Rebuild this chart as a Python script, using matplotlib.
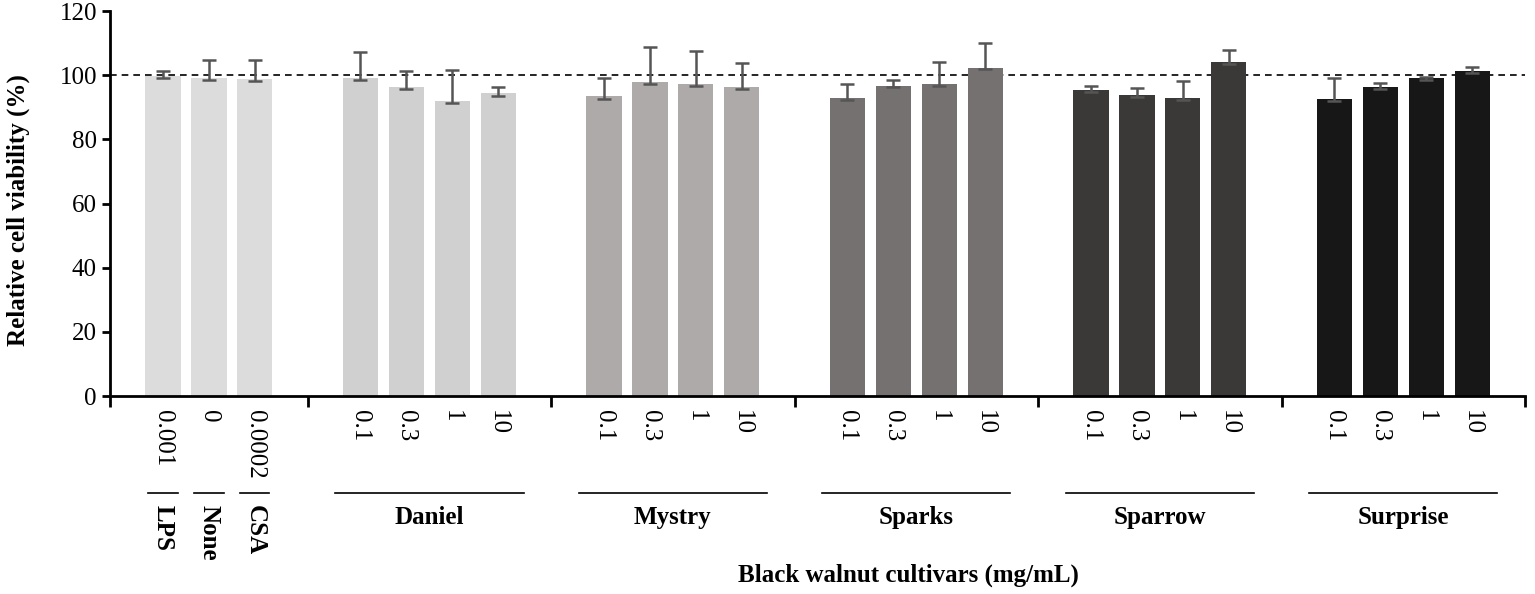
import matplotlib.pyplot as plt
from matplotlib.lines import Line2D

plt.rcParams["font.family"] = ["Liberation Serif", "DejaVu Serif"]

# data
controls = ["LPS", "None", "CSA"]
control_doses = ["0.001", "0", "0.0002"]
control_vals = [99.8, 99.2, 98.8]
control_hi = [1.4, 5.6, 6.0]
control_lo = [0.8, 0.6, 0.6]

cultivars = ["Daniel", "Mystry", "Sparks", "Sparrow", "Surprise"]
doses = ["0.1", "0.3", "1", "10"]
values = [
    [99.2, 96.4, 92.0, 94.5],
    [93.4, 97.9, 97.4, 96.3],
    [92.9, 96.8, 97.4, 102.4],
    [95.5, 93.9, 93.0, 104.0],
    [92.5, 96.3, 99.0, 101.4],
]
err_hi = [
    [8.0, 4.8, 9.5, 1.7],
    [5.9, 10.8, 10.2, 7.4],
    [4.3, 1.8, 6.8, 7.7],
    [1.3, 2.2, 5.2, 4.0],
    [6.8, 1.4, 0.5, 1.2],
]
err_lo = [
    [0.6, 0.8, 0.8, 0.9],
    [0.7, 0.7, 0.7, 0.7],
    [0.6, 0.6, 0.6, 0.6],
    [0.6, 0.6, 0.6, 0.6],
    [0.6, 0.6, 0.6, 0.6],
]

control_color = "#dcdcdc"
colors = ["#d0d0d0", "#aeaaaa", "#767171", "#3b3838", "#181717"]

margin = 1.15
bw = 0.77
fs = 18

fig = plt.figure(figsize=(15.35, 5.94), dpi=100)
ax = fig.add_axes([0.0717, 0.3333, 0.9218, 0.648])

# positions
edges = [0.0]
ctrl_x = [margin + i for i in range(len(controls))]
edges.append(ctrl_x[-1] + margin)
group_x = []
for g in range(len(cultivars)):
    start = edges[-1]
    xs = [start + margin + i for i in range(len(doses))]
    group_x.append(xs)
    edges.append(xs[-1] + margin)

ax.bar(ctrl_x, control_vals, width=bw, color=control_color)
ax.errorbar(ctrl_x, control_vals, yerr=[control_lo, control_hi], fmt="none",
            ecolor="#555555", elinewidth=1.8, capsize=5, capthick=1.8)
for g in range(len(cultivars)):
    ax.bar(group_x[g], values[g], width=bw, color=colors[g])
    ax.errorbar(group_x[g], values[g], yerr=[err_lo[g], err_hi[g]], fmt="none",
                ecolor="#555555", elinewidth=1.8, capsize=5, capthick=1.8)

ax.axhline(100, color="black", linestyle=(0, (4, 3)), linewidth=1.2, zorder=0.5)

ax.set_xlim(edges[0], edges[-1])
ax.set_ylim(0, 120)
ax.set_yticks(range(0, 121, 20))
ax.tick_params(axis="y", labelsize=fs, width=2, length=6, direction="out")

all_x = ctrl_x + [x for xs in group_x for x in xs]
all_lab = control_doses + doses * len(cultivars)
ax.set_xticks(all_x, all_lab, rotation=-90, fontsize=fs)
ax.tick_params(axis="x", which="major", length=0, pad=10)
ax.set_xticks(edges, minor=True)
ax.tick_params(axis="x", which="minor", length=8, width=2, direction="out")

for s in ["top", "right"]:
    ax.spines[s].set_visible(False)
for s in ["left", "bottom"]:
    ax.spines[s].set_linewidth(2)

tr = ax.get_xaxis_transform()
line_y = -0.252
for x, name in zip(ctrl_x, controls):
    ax.add_line(Line2D([x - 0.32, x + 0.32], [line_y, line_y], transform=tr,
                       color="black", linewidth=1.2, clip_on=False))
    ax.text(x, line_y - 0.03, name, transform=tr, rotation=-90, ha="center", va="top",
            fontsize=fs, fontweight="bold")
for xs, name in zip(group_x, cultivars):
    ax.add_line(Line2D([xs[0] - 0.55, xs[-1] + 0.55], [line_y, line_y], transform=tr,
                       color="black", linewidth=1.2, clip_on=False))
    ax.text((xs[0] + xs[-1]) / 2, line_y - 0.035, name, transform=tr, ha="center", va="top",
            fontsize=fs, fontweight="bold")

fig.text(0.004, 0.646, "Relative cell viability (%)", rotation=90, ha="left", va="center",
         fontsize=fs, fontweight="bold")
fig.text(0.592, 0.032, "Black walnut cultivars (mg/mL)", ha="center", va="center",
         fontsize=fs, fontweight="bold")

plt.savefig("out.png", dpi=100)
